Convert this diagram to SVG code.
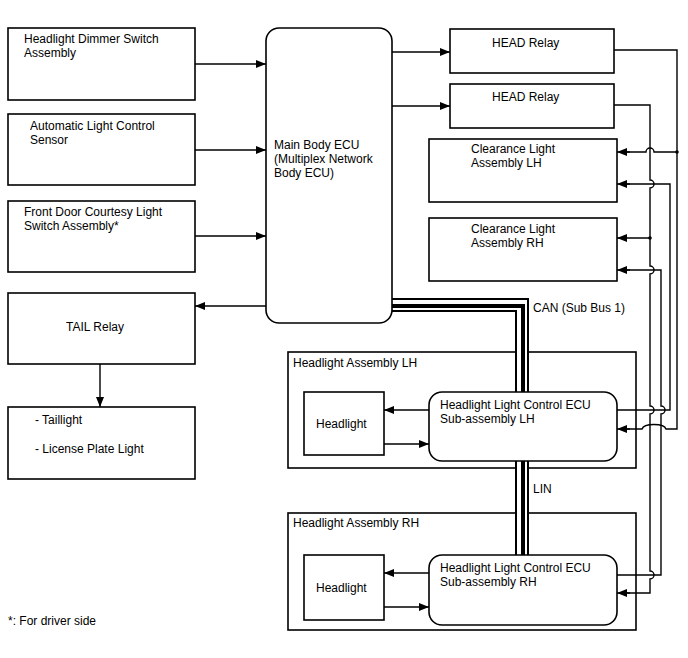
<svg xmlns="http://www.w3.org/2000/svg" width="688" height="658" viewBox="0 0 688 658">
<defs>
<marker id="ah" markerWidth="10" markerHeight="8" refX="10" refY="4" orient="auto" markerUnits="userSpaceOnUse">
<path d="M0,0 L10,4 L0,8 Z" fill="#000"/>
</marker>
<style>
.box{fill:#fff;stroke:#000;stroke-width:1.6}
.t{font-family:"Liberation Sans",Arial,sans-serif;font-size:12px;fill:#000}
.w{fill:none;stroke:#000;stroke-width:1.4}
.a{fill:none;stroke:#000;stroke-width:1.4;marker-end:url(#ah)}
.bo{fill:none;stroke:#000;stroke-width:14}
.bw{fill:none;stroke:#fff;stroke-width:10}
.bi{fill:none;stroke:#000;stroke-width:4}
</style>
</defs>
<rect width="688" height="658" fill="#fff"/>

<g id="hla-lh">
<rect class="box" x="288" y="352" width="348" height="116"/>
<text class="t" x="293" y="367">Headlight Assembly LH</text>
</g>
<g id="hla-rh">
<rect class="box" x="288" y="513" width="348" height="117"/>
<text class="t" x="293" y="527">Headlight Assembly RH</text>
</g>

<g id="connectors">
<line class="a" x1="195" y1="64" x2="266" y2="64"/>
<line class="a" x1="195" y1="150" x2="266" y2="150"/>
<line class="a" x1="195" y1="236" x2="266" y2="236"/>
<line class="a" x1="266" y1="306" x2="195" y2="306"/>
<line class="a" x1="100" y1="364" x2="100" y2="407"/>
<line class="a" x1="392" y1="52" x2="450" y2="52"/>
<line class="a" x1="392" y1="106" x2="450" y2="106"/>
<path class="bo" d="M392,305 H522 V392"/>
<path class="bw" d="M392,305 H522 V392"/>
<path class="bi" d="M392,306 H523 V392"/>
<path class="bo" d="M522,461 V555"/>
<path class="bw" d="M522,461 V555"/>
<path class="bi" d="M523,461 V555"/>
<line class="a" x1="429" y1="410" x2="384" y2="410"/>
<line class="a" x1="384" y1="444" x2="429" y2="444"/>
<line class="a" x1="429" y1="573" x2="384" y2="573"/>
<line class="a" x1="384" y1="607" x2="429" y2="607"/>
<path class="w" d="M614,50 H677 V429 H666 C664,423 644,423 642,429 H627"/>
<line class="a" x1="630" y1="429" x2="617" y2="429"/>
<path class="w" d="M677,152 H654 a4,4 0 0 0 -8,0 H627"/>
<line class="a" x1="630" y1="152" x2="617" y2="152"/>
<circle cx="677" cy="152" r="1.8" fill="#000"/>
<path class="w" d="M617,410 H670 V184 H627"/>
<line class="a" x1="630" y1="184" x2="617" y2="184"/>
<path class="w" d="M614,105 H650 V180 a4,4 0 0 1 0,8 V266 a4,4 0 0 1 0,8 V406 a4,4 0 0 1 0,8 V571 a4,4 0 0 1 0,8 V593 H627"/>
<line class="a" x1="630" y1="593" x2="617" y2="593"/>
<line class="a" x1="650" y1="238" x2="617" y2="238"/>
<circle cx="650" cy="238" r="1.8" fill="#000"/>
<path class="w" d="M617,575 H661 V414 a4,4 0 0 0 0,-8 V270 H627"/>
<line class="a" x1="630" y1="270" x2="617" y2="270"/>
</g>

<g id="dimmer">
<rect class="box" x="8" y="28" width="187" height="72"/>
<text class="t" x="24" y="43">Headlight Dimmer Switch</text>
<text class="t" x="24" y="57">Assembly</text>
</g>
<g id="auto-sensor">
<rect class="box" x="8" y="114" width="187" height="71"/>
<text class="t" x="30" y="130">Automatic Light Control</text>
<text class="t" x="30" y="144">Sensor</text>
</g>
<g id="door-switch">
<rect class="box" x="8" y="201" width="187" height="71"/>
<text class="t" x="24" y="216">Front Door Courtesy Light</text>
<text class="t" x="24" y="230">Switch Assembly*</text>
</g>
<g id="tail-relay">
<rect class="box" x="8" y="293" width="187" height="71"/>
<text class="t" x="66" y="331">TAIL Relay</text>
</g>
<g id="taillights">
<rect class="box" x="8" y="407" width="187" height="72"/>
<text class="t" x="35" y="424">- Taillight</text>
<text class="t" x="35" y="453">- License Plate Light</text>
</g>
<g id="main-ecu">
<rect class="box" x="266" y="28" width="126" height="295" rx="13"/>
<text class="t" x="274" y="149">Main Body ECU</text>
<text class="t" x="274" y="163">(Multiplex Network</text>
<text class="t" x="274" y="177">Body ECU)</text>
</g>
<g id="head-relay-1">
<rect class="box" x="450" y="29" width="164" height="44"/>
<text class="t" x="492" y="47">HEAD Relay</text>
</g>
<g id="head-relay-2">
<rect class="box" x="450" y="84" width="164" height="44"/>
<text class="t" x="492" y="101">HEAD Relay</text>
</g>
<g id="clearance-lh">
<rect class="box" x="429" y="139" width="188" height="63"/>
<text class="t" x="471" y="153">Clearance Light</text>
<text class="t" x="471" y="167">Assembly LH</text>
</g>
<g id="clearance-rh">
<rect class="box" x="429" y="218" width="188" height="63"/>
<text class="t" x="471" y="233">Clearance Light</text>
<text class="t" x="471" y="247">Assembly RH</text>
</g>
<g id="headlight-lh">
<rect class="box" x="304" y="392" width="80" height="63"/>
<text class="t" x="316" y="428">Headlight</text>
</g>
<g id="ecu-lh">
<rect class="box" x="429" y="392" width="188" height="69" rx="13"/>
<text class="t" x="440" y="409">Headlight Light Control ECU</text>
<text class="t" x="440" y="423">Sub-assembly LH</text>
</g>
<g id="headlight-rh">
<rect class="box" x="304" y="555" width="80" height="65"/>
<text class="t" x="316" y="592">Headlight</text>
</g>
<g id="ecu-rh">
<rect class="box" x="429" y="555" width="188" height="70" rx="13"/>
<text class="t" x="440" y="572">Headlight Light Control ECU</text>
<text class="t" x="440" y="586">Sub-assembly RH</text>
</g>
<g id="labels">
<text class="t" x="533" y="312">CAN (Sub Bus 1)</text>
<text class="t" x="533" y="493">LIN</text>
<text class="t" x="8" y="625">*: For driver side</text>
</g>
</svg>
